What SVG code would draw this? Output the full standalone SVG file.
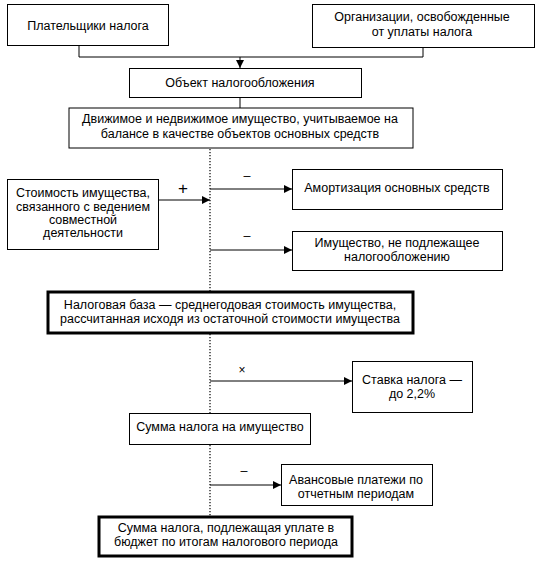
<svg xmlns="http://www.w3.org/2000/svg" width="550" height="562" viewBox="0 0 550 562">
<style>
.b{fill:#fff;stroke:#000;stroke-width:1}
.t{fill:#fff;stroke:#000;stroke-width:3}
text{font-family:"Liberation Sans",Arial,sans-serif;font-size:12.5px;fill:#000;text-anchor:middle}
text.plus{font-size:17px}
text.times{font-size:12px}
.l{fill:none;stroke:#000;stroke-width:1}
.d{fill:none;stroke:#000;stroke-width:1.2;stroke-dasharray:1.2 1.8}
</style>
<defs>
<marker id="a" viewBox="0 0 10 10" refX="10" refY="5" markerWidth="8" markerHeight="8" markerUnits="userSpaceOnUse" orient="auto">
<path d="M0,0 L10,5 L0,10 z" fill="#000"/>
</marker>
</defs>
<rect width="550" height="562" fill="#fff"/>
<g id="connectors">
<polyline class="l" points="79,46 79,57 423,57 423,48"/>
<line class="l" x1="240" y1="57" x2="240" y2="68" marker-end="url(#a)"/>
<line class="l" x1="240" y1="98" x2="240" y2="108"/>
<line class="d" x1="210" y1="149" x2="210" y2="291"/>
<line class="d" x1="210" y1="334" x2="210" y2="413"/>
<line class="d" x1="210" y1="445" x2="210" y2="516"/>
<line class="l" x1="159" y1="200" x2="210" y2="200" marker-end="url(#a)"/>
<line class="l" x1="210" y1="189" x2="292" y2="189" marker-end="url(#a)"/>
<line class="l" x1="210" y1="250" x2="292" y2="250" marker-end="url(#a)"/>
<line class="l" x1="210" y1="381" x2="352" y2="381" marker-end="url(#a)"/>
<line class="l" x1="210" y1="485" x2="281" y2="485" marker-end="url(#a)"/>
<text class="plus" x="183" y="194">+</text>
<text x="247" y="180">–</text>
<text x="247" y="240">–</text>
<text class="times" x="242" y="374">×</text>
<text x="244" y="475">–</text>
</g>
<g id="payers">
<rect class="b" x="7.5" y="4.5" width="161" height="41"/>
<text x="88" y="30">Плательщики налога</text>
</g>
<g id="exempt">
<rect class="b" x="312.5" y="4.5" width="222" height="43"/>
<text x="422" y="21">Организации, освобожденные</text>
<text x="422" y="36">от уплаты  налога</text>
</g>
<g id="object">
<rect class="b" x="129.5" y="68.5" width="232" height="29"/>
<text x="240" y="87">Объект налогообложения</text>
</g>
<g id="property">
<rect class="b" x="69" y="108" width="344" height="40" stroke-width="2"/>
<text x="240" y="123">Движимое и недвижимое имущество, учитываемое на</text>
<text x="240" y="138">балансе в качестве объектов основных средств</text>
</g>
<g id="joint">
<rect class="b" x="7.5" y="179.5" width="151" height="70"/>
<text x="83" y="197">Стоимость имущества,</text>
<text x="83" y="211">связанного с ведением</text>
<text x="83" y="224">совместной</text>
<text x="83" y="237">деятельности</text>
</g>
<g id="amort">
<rect class="b" x="292.5" y="169.5" width="210" height="40"/>
<text x="397" y="192">Амортизация основных средств</text>
</g>
<g id="nontax">
<rect class="b" x="292.5" y="231.5" width="210" height="39"/>
<text x="397" y="247">Имущество, не подлежащее</text>
<text x="397" y="261">налогообложению</text>
</g>
<g id="base">
<rect class="t" x="48" y="292" width="365" height="41"/>
<text x="230" y="309">Налоговая база — среднегодовая стоимость имущества,</text>
<text x="230" y="323">рассчитанная исходя из остаточной стоимости имущества</text>
</g>
<g id="rate">
<rect class="b" x="352.5" y="361.5" width="120" height="51"/>
<text x="412" y="384">Ставка налога —</text>
<text x="412" y="398">до 2,2%</text>
</g>
<g id="sum">
<rect class="b" x="129.5" y="413.5" width="181" height="31"/>
<text x="220" y="431">Сумма налога на имущество</text>
</g>
<g id="advance">
<rect class="b" x="281.5" y="464.5" width="151" height="41"/>
<text x="356" y="484">Авансовые платежи по</text>
<text x="356" y="498">отчетным периодам</text>
</g>
<g id="final">
<rect class="t" x="99" y="517" width="253" height="39"/>
<text x="226" y="532">Сумма  налога, подлежащая уплате в</text>
<text x="226" y="546">бюджет по итогам налогового периода</text>
</g>
</svg>
